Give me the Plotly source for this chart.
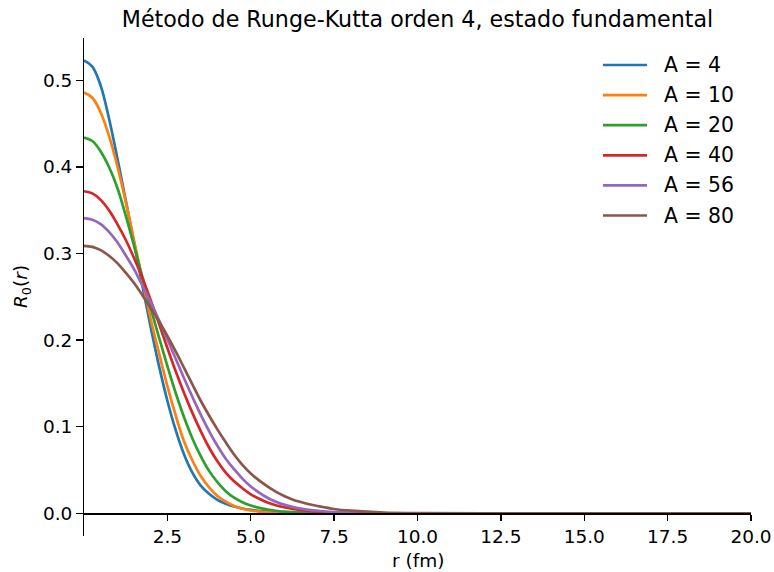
import plotly.graph_objects as go

# ---- data ----
r_fm = [0, 0.25, 0.5, 0.75, 1.0, 1.25, 1.5, 1.75, 2.0, 2.25, 2.5, 2.75, 3.0, 3.25, 3.5,
        3.75, 4.0, 4.25, 4.5, 4.75, 5.0, 5.25, 5.5, 5.75, 6.0, 6.25, 6.5, 6.75, 7.0,
        7.5, 8, 9, 10, 12, 15, 20]

labels = ["A = 4", "A = 10", "A = 20", "A = 40", "A = 56", "A = 80"]

R_A4 = [0.523, 0.516, 0.494, 0.456, 0.410, 0.362, 0.313, 0.263, 0.215, 0.170, 0.130,
        0.096, 0.068, 0.047, 0.032, 0.0225, 0.0155, 0.011, 0.0078, 0.0055, 0.0039,
        0.0027, 0.0019, 0.0013, 0.0009, 0.0006, 0.0004, 0.0003, 0.0002,
        0.0001, 0.00005, 0, 0, 0, 0, 0]
R_A10 = [0.486, 0.480, 0.463, 0.436, 0.401, 0.360, 0.315, 0.270, 0.2245, 0.185, 0.147,
         0.113, 0.083, 0.061, 0.043, 0.030, 0.020, 0.0135, 0.0085, 0.0054, 0.0033,
         0.002, 0.0012, 0.0007, 0.0004, 0.0002, 0.0001, 0.00005, 0,
         0, 0, 0, 0, 0, 0, 0]
R_A20 = [0.434, 0.430, 0.418, 0.400, 0.376, 0.344, 0.309, 0.273, 0.237, 0.203, 0.170,
         0.139, 0.111, 0.0865, 0.066, 0.049, 0.036, 0.0255, 0.018, 0.0128, 0.009,
         0.0063, 0.0044, 0.003, 0.002, 0.0013, 0.0009, 0.0006, 0.0004,
         0.00015, 0.00005, 0, 0, 0, 0, 0]
R_A40 = [0.372, 0.3695, 0.362, 0.350, 0.334, 0.316, 0.295, 0.272, 0.246, 0.219, 0.191,
         0.164, 0.139, 0.116, 0.095, 0.076, 0.060, 0.047, 0.037, 0.029, 0.022,
         0.0168, 0.0125, 0.0094, 0.007, 0.0051, 0.0037, 0.0027, 0.0018,
         0.0008, 0.0003, 0.00005, 0, 0, 0, 0]
R_A56 = [0.341, 0.339, 0.334, 0.325, 0.313, 0.298, 0.282, 0.263, 0.2436, 0.223, 0.201,
         0.1785, 0.156, 0.1345, 0.114, 0.095, 0.078, 0.063, 0.051, 0.040, 0.031,
         0.024, 0.018, 0.0135, 0.010, 0.0075, 0.0055, 0.004, 0.003,
         0.0015, 0.0007, 0.0001, 0, 0, 0, 0]
R_A80 = [0.309, 0.3078, 0.304, 0.2975, 0.289, 0.278, 0.266, 0.252, 0.237, 0.2215, 0.205,
         0.187, 0.168, 0.149, 0.130, 0.113, 0.097, 0.082, 0.068, 0.056, 0.046,
         0.038, 0.031, 0.025, 0.020, 0.016, 0.013, 0.0105, 0.0085,
         0.005, 0.003, 0.0008, 0.0003, 0, 0, 0]

series = [R_A4, R_A10, R_A20, R_A40, R_A56, R_A80]

x_ticks = [2.5, 5.0, 7.5, 10.0, 12.5, 15.0, 17.5, 20.0]
y_ticks = [0.0, 0.1, 0.2, 0.3, 0.4, 0.5]

colors = ["#1f77b4", "#ff7f0e", "#2ca02c", "#d62728", "#9467bd", "#8c564b"]

# ---- figure ----
W, H = 774, 572
ML, MR, MT, MB = 84, 23, 38, 36
y_lo, y_hi = -0.0262, 0.549
FONT = "DejaVu Sans"
TICK_FS = 18.5
LEG_FS = 20.4
TITLE_FS = 22.2
LW = 2.7
SPINE = 1.4

fig = go.Figure()
for vals, name, col in zip(series, labels, colors):
    fig.add_trace(go.Scatter(
        x=r_fm, y=vals, mode="lines", name=name,
        line=dict(color=col, width=LW, shape="spline", smoothing=1.0),
        showlegend=False, hoverinfo="skip",
    ))

plot_h = H - MT - MB
plot_w = W - ML - MR

axis_common = dict(showgrid=False, zeroline=False, automargin=False,
                   showline=True, linecolor="black", linewidth=SPINE,
                   ticks="outside", ticklen=6.5, tickwidth=SPINE, tickcolor="black",
                   tickfont=dict(family=FONT, size=TICK_FS, color="black"))

fig.update_layout(
    width=W, height=H,
    margin=dict(l=ML, r=MR, t=MT, b=MB, autoexpand=False),
    paper_bgcolor="white", plot_bgcolor="white",
    font=dict(family=FONT, size=TICK_FS, color="black"),
    hovermode=False,
    title=dict(text="Método de Runge-Kutta orden 4, estado fundamental",
               x=0.5, xref="paper", xanchor="center",
               y=1 - 19 / H, yref="container", yanchor="middle",
               font=dict(family=FONT, size=TITLE_FS, color="black")),
    xaxis=dict(range=[0, 20], tickvals=x_ticks,
               ticktext=[f"{v:.1f}" for v in x_ticks],
               anchor="free", position=(-y_lo) / (y_hi - y_lo),
               **axis_common),
    yaxis=dict(range=[y_lo, y_hi], tickvals=y_ticks,
               ticktext=[f"{v:.1f}" for v in y_ticks],
               **axis_common),
)

# axis labels
fig.add_annotation(text="r (fm)", xref="paper", yref="paper",
                   x=0.5, y=(H - MB - 560) / plot_h, xanchor="center", yanchor="middle",
                   showarrow=False, font=dict(family=FONT, size=TICK_FS, color="black"))
fig.add_annotation(text="<i>R</i><sub>0</sub>(<i>r</i>)", xref="paper", yref="paper",
                   x=(22 - ML) / plot_w, y=0.5, xanchor="center", yanchor="middle",
                   textangle=-90, showarrow=False,
                   font=dict(family=FONT, size=TICK_FS, color="black"))

# legend (drawn manually, matplotlib style, no frame)
row0, drow = 65, 30.1
for i, (name, col) in enumerate(zip(labels, colors)):
    ypx = row0 + i * drow
    yp = (H - MB - ypx) / plot_h
    fig.add_shape(type="line", xref="paper", yref="paper",
                  x0=(603 - ML) / plot_w, x1=(647 - ML) / plot_w, y0=yp, y1=yp,
                  line=dict(color=col, width=LW))
    fig.add_annotation(text=name, xref="paper", yref="paper",
                       x=(662 - ML) / plot_w, y=yp, xanchor="left", yanchor="middle",
                       showarrow=False, font=dict(family=FONT, size=LEG_FS, color="black"))

fig.write_html(
    "out.html",
    config={"displayModeBar": False, "staticPlot": True},
    post_script="document.body.style.margin='0';document.body.style.padding='0';"
                "document.body.style.overflow='hidden';",
)
